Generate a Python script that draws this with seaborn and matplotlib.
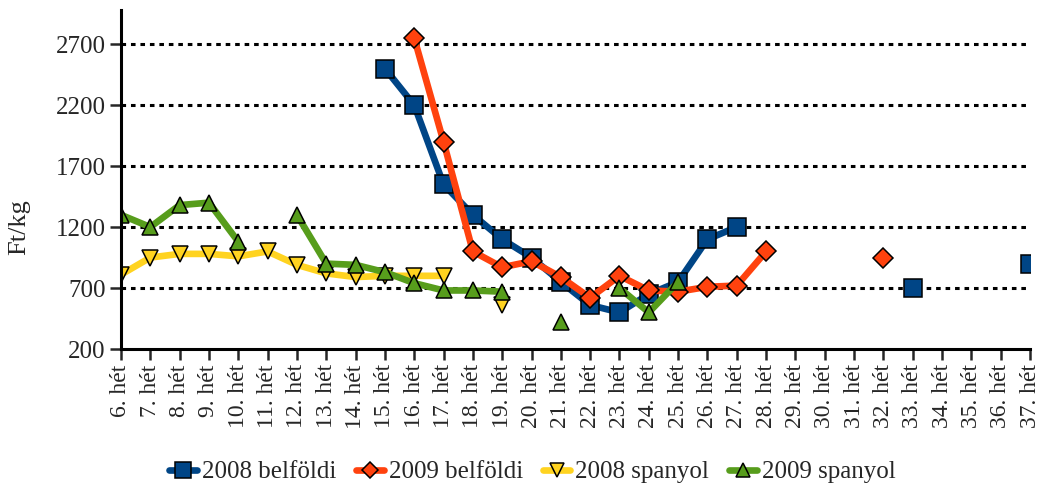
import numpy as np
import pandas as pd
import matplotlib
matplotlib.use("Agg")
import matplotlib.pyplot as plt
from matplotlib.lines import Line2D
import seaborn as sns

# Weekly prices, Ft/kg (None = no data that week)
weeks = [f"{w}. hét" for w in range(6, 38)]

belfoldi_2008 = [None] * 9 + [2500, 2200, 1550, 1300, 1100, 950, 750, 560, 500, 650, 750, 1100, 1200] \
    + [None] * 5 + [700] + [None] * 3 + [900]
belfoldi_2009 = [None] * 10 + [2750, 1900, 1000, 870, 920, 790, 620, 800, 680, 670, 710, 720, 1000] \
    + [None] * 3 + [950] + [None] * 5
spanyol_2008 = [810, 950, 980, 980, 960, 1000, 890, 820, 790, 800, 800, 800, None, 560] + [None] * 18
spanyol_2009 = [1300, 1200, 1380, 1400, 1080, None, 1300, 900, 890, 830, 740, 680, 680, 670,
                None, 420, None, 700, 500, 750] + [None] * 12

series = [
    ("2008 belföldi", belfoldi_2008, "#004586", "s", 13),
    ("2009 belföldi", belfoldi_2009, "#FF420E", "D", 10),
    ("2008 spanyol", spanyol_2008, "#FFD320", "v", 12),
    ("2009 spanyol", spanyol_2009, "#579D1C", "^", 12),
]

sns.set_style("white")
plt.rcParams["font.family"] = ["Liberation Serif", "DejaVu Serif"]

fig = plt.figure(figsize=(10.42, 4.90), dpi=100)
ax = fig.add_axes([121 / 1042, 141 / 490, 909 / 1042, 339 / 490])

handles = []
for name, vals, color, marker, ms in series:
    df = pd.DataFrame({"x": np.arange(len(weeks)), "y": pd.to_numeric(pd.Series(vals), errors="coerce")})
    df["seg"] = df["y"].isna().cumsum()
    df = df.dropna()
    sns.lineplot(data=df, x="x", y="y", units="seg", estimator=None, ax=ax, color=color,
                 lw=4.8, marker=marker, markersize=ms, markeredgecolor="black",
                 markeredgewidth=1.1, legend=False, sort=True)
    handles.append(Line2D([], [], color=color, lw=4.8, marker=marker, markersize=ms * 0.85,
                          markeredgecolor="black", markeredgewidth=1.1, label=name))

ax.set_xlim(0, len(weeks) - 1)
ax.set_ylim(200, 2980)
ax.set_xticks(np.arange(len(weeks)))
ax.set_xticklabels(weeks, rotation=90, fontsize=17)
ax.set_yticks([200, 700, 1200, 1700, 2200, 2700])
ax.tick_params(axis="y", labelsize=18, length=8, width=1.8, direction="out", left=True, pad=3)
ax.tick_params(axis="x", length=8, width=1.8, direction="out", bottom=True, pad=3)
ax.set_xlabel("")
ax.set_ylabel("Ft/kg", fontsize=19)
ax.yaxis.set_label_coords(-0.1, 0.36)

for y in [700, 1200, 1700, 2200, 2700]:
    ax.axhline(y, color="black", lw=2.2, linestyle=(0, (1.5, 1.6)), zorder=0)

for side in ["top", "right"]:
    ax.spines[side].set_visible(False)
for side in ["left", "bottom"]:
    ax.spines[side].set_linewidth(2.2)
    ax.spines[side].set_color("black")

fig.legend(handles=handles, loc="center", bbox_to_anchor=(0.511, 1 - 472 / 490), ncol=4,
           frameon=False, fontsize=18, handlelength=1.1, columnspacing=0.8, handletextpad=0.2)

fig.savefig("out.png", dpi=100)
